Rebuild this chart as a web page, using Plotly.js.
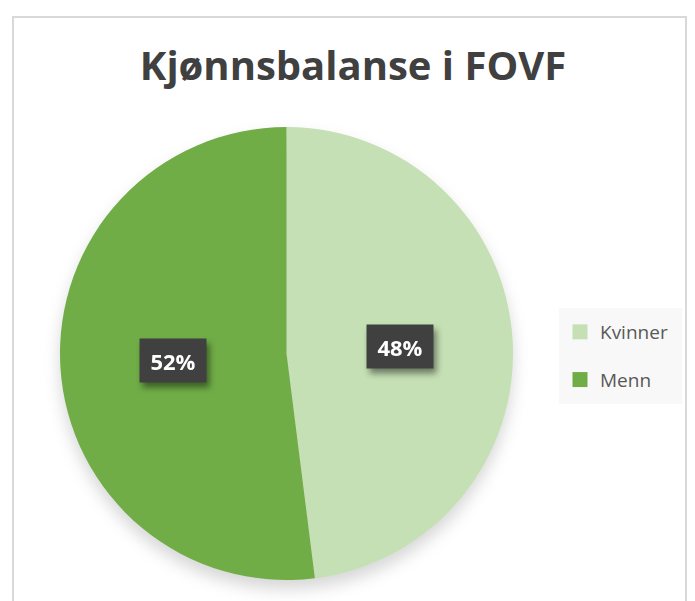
<!DOCTYPE html>
<html>
<head>
<meta charset="utf-8">
<script src="https://cdn.plot.ly/plotly-3.0.1.min.js"></script>
<style>
  html, body { margin: 0; padding: 0; background: #ffffff; }
  #frame { position: absolute; left: 12px; top: 16px; width: 675px; height: 600px; border: 2px solid #d9d9d9; border-bottom: none; box-sizing: border-box; }
  #chart { position: absolute; left: 0; top: 0; width: 695px; height: 601px; }
  #chart .pielayer { filter: drop-shadow(0px 9px 8px rgba(0,0,0,0.16)); }
  #chart .annotation.lbl { filter: drop-shadow(3px 5px 3px rgba(0,0,0,0.45)); }
</style>
</head>
<body>
<div id="frame"></div>
<div id="chart"></div>
<script>
const chartTitle = "Kjønnsbalanse i FOVF";
const categories = ["Kvinner", "Menn"];
const shares = [48, 52];
const colors = ["#C5E0B4", "#70AD47"];

const W = 695, H = 601;
const cx = 286.5, cy = 353.5, R = 226.5;
const dom = { x: [(cx - R) / W, (cx + R) / W], y: [1 - (cy + R) / H, 1 - (cy - R) / H] };

const total = shares.reduce((a, b) => a + b, 0);
const pie = {
  type: "pie",
  labels: categories,
  values: shares,
  sort: false,
  direction: "clockwise",
  rotation: 0,
  textinfo: "none",
  hoverinfo: "label+percent",
  marker: { colors: colors, line: { width: 0 } },
  domain: dom,
  showlegend: false
};

// legend proxies (so the entry spacing can match)
const proxies = categories.map((c, i) => ({
  type: "scatter", mode: "markers", x: [null], y: [null], name: c,
  legendgroup: "g" + i,
  marker: { symbol: "square", size: 15, color: colors[i] },
  hoverinfo: "skip", showlegend: true, xaxis: "x", yaxis: "y"
}));

// percentage labels computed from values (mid-angle, half radius)
const annotations = [];
let acc = 0;
shares.forEach((v, i) => {
  const mid = (acc + v / 2) / total * 2 * Math.PI;
  acc += v;
  const px = cx + 0.5 * R * Math.sin(mid);
  const py = cy - 0.5 * R * Math.cos(mid);
  annotations.push({
    xref: "paper", yref: "paper", x: px / W, y: 1 - py / H,
    text: "<b>" + Math.round(v / total * 100) + "%</b>",
    showarrow: false, bgcolor: "#404040", width: 64, height: 41,
    font: { family: "Open Sans", size: 22, color: "#ffffff" },
    xanchor: "center", yanchor: "middle", name: "lbl"
  });
});

const layout = {
  width: W, height: H,
  margin: { l: 0, r: 0, t: 0, b: 0 },
  paper_bgcolor: "rgba(0,0,0,0)", plot_bgcolor: "rgba(0,0,0,0)",
  title: { text: "<b>" + chartTitle + "</b>", x: 353 / W, xanchor: "center", xref: "container",
           y: 1 - 66 / H, yanchor: "middle", yref: "container",
           font: { family: "Open Sans", size: 40, color: "#404040" } },
  xaxis: { visible: false, domain: [0.9, 0.95] },
  yaxis: { visible: false, domain: [0.9, 0.95] },
  showlegend: true,
  legend: { x: 560 / W, y: 1 - 313 / H, xanchor: "left", yanchor: "top",
            bgcolor: "rgba(0,0,0,0)", tracegroupgap: 20, traceorder: "grouped",
            font: { family: "Open Sans", size: 19, color: "#595959" }, itemclick: false },
  shapes: [{ type: "rect", xref: "paper", yref: "paper", x0: 559 / W, x1: 682 / W, y0: 1 - 404 / H, y1: 1 - 308 / H,
             fillcolor: "#F8F8F8", line: { width: 0 }, layer: "below" }],
  annotations: annotations
};

Plotly.newPlot("chart", [pie].concat(proxies), layout, { displayModeBar: false, staticPlot: true }).then(() => {
  document.querySelectorAll("#chart .annotation").forEach(a => a.classList.add("lbl"));
});
</script>
</body>
</html>
